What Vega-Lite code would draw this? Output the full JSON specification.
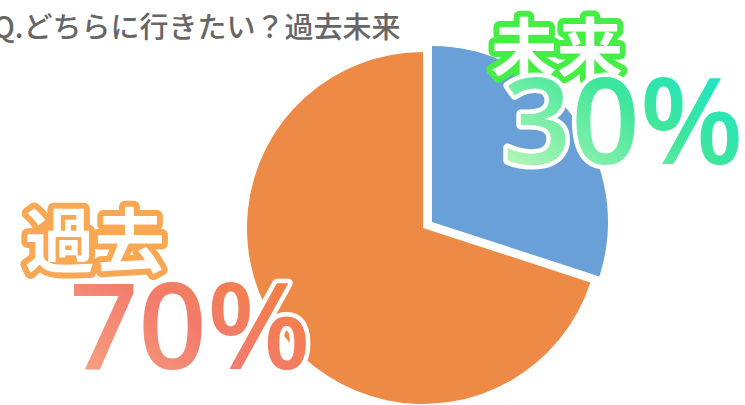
{
  "$schema": "https://vega.github.io/schema/vega-lite/v6.json",
  "width": 646,
  "height": 352,
  "autosize": {"type": "none"},
  "padding": {"left": 100, "top": 52, "right": 0, "bottom": 0},
  "background": "white",
  "title": {
    "text": "Q.どちらに行きたい？過去未来",
    "anchor": "start",
    "frame": "group",
    "dx": -107,
    "offset": -24,
    "font": "Noto Sans CJK JP",
    "fontSize": 29,
    "fontWeight": 500,
    "color": "#666666"
  },
  "data": {"values": [
    {"category": "未来", "value": 30},
    {"category": "過去", "value": 70}
  ]},
  "transform": [
    {"stack": "value", "groupby": [], "sort": [{"field": "value", "order": "ascending"}], "as": ["v0", "v1"]},
    {"calculate": "(datum.v0 + datum.v1) / 2", "as": "mid"},
    {"calculate": "datum.value + '%'", "as": "pct"}
  ],
  "layer": [
    {
      "mark": {"type": "arc", "radius": 176},
      "encoding": {
        "theta": {"field": "v0", "type": "quantitative", "stack": null, "scale": {"domain": [0, 100]}},
        "theta2": {"field": "v1"},
        "color": {"field": "category", "type": "nominal", "scale": {"domain": ["未来", "過去"], "range": ["#6aa0d8", "#ec8a46"]}, "legend": null},
        "opacity": {"condition": {"test": "datum.category === '未来'", "value": 0}, "value": 1}
      }
    },
    {
      "transform": [{"filter": "datum.category === '未来'"}],
      "mark": {"type": "arc", "radius": 176, "xOffset": 9, "yOffset": -6},
      "encoding": {
        "theta": {"field": "v0", "type": "quantitative", "stack": null, "scale": {"domain": [0, 100]}},
        "theta2": {"field": "v1"},
        "color": {"field": "category", "type": "nominal", "legend": null}
      }
    },
    {
      "transform": [{"filter": "datum.category === '未来'"}],
      "mark": {"type": "text", "radius": 230, "dx": -52, "dy": -40, "font": "Noto Sans CJK JP", "fontWeight": "bold", "fontSize": 66, "fill": "#44ee44", "stroke": "#44ee44", "strokeWidth": 12, "strokeJoin": "round", "align": "center", "baseline": "middle"},
      "encoding": {"theta": {"field": "mid", "type": "quantitative", "stack": null, "scale": {"domain": [0, 100]}}, "text": {"field": "category"}}
    },
    {
      "transform": [{"filter": "datum.category === '未来'"}],
      "mark": {"type": "text", "radius": 230, "dx": -52, "dy": -40, "font": "Noto Sans CJK JP", "fontWeight": "bold", "fontSize": 66, "fill": "#ffffff", "align": "center", "baseline": "middle"},
      "encoding": {"theta": {"field": "mid", "type": "quantitative", "stack": null, "scale": {"domain": [0, 100]}}, "text": {"field": "category"}}
    },
    {
      "transform": [{"filter": "datum.category === '未来'"}],
      "mark": {"type": "text", "radius": 230, "dx": 14, "dy": 35, "font": "Open Sans", "fontWeight": 600, "fontSize": 120, "fill": "#ffffff", "stroke": "#ffffff", "strokeWidth": 9, "strokeJoin": "round", "align": "center", "baseline": "middle"},
      "encoding": {"theta": {"field": "mid", "type": "quantitative", "stack": null, "scale": {"domain": [0, 100]}}, "text": {"field": "pct"}}
    },
    {
      "transform": [{"filter": "datum.category === '未来'"}],
      "mark": {"type": "text", "radius": 230, "dx": 14, "dy": 35, "font": "Open Sans", "fontWeight": 600, "fontSize": 120, "align": "center", "baseline": "middle",
        "fill": {"gradient": "linear", "x1": 1, "y1": 0, "x2": 0, "y2": 1, "stops": [{"offset": 0, "color": "#08e4e4"}, {"offset": 0.45, "color": "#3fe69a"}, {"offset": 1, "color": "#d2fabe"}]}},
      "encoding": {"theta": {"field": "mid", "type": "quantitative", "stack": null, "scale": {"domain": [0, 100]}}, "text": {"field": "pct"}}
    },
    {
      "transform": [{"filter": "datum.category === '過去'"}],
      "mark": {"type": "text", "radius": 271, "dx": -109, "dy": -141, "font": "Noto Sans CJK JP", "fontWeight": "bold", "fontSize": 70, "fill": "#f8a752", "stroke": "#f8a752", "strokeWidth": 12, "strokeJoin": "round", "align": "center", "baseline": "middle"},
      "encoding": {"theta": {"field": "mid", "type": "quantitative", "stack": null, "scale": {"domain": [0, 100]}}, "text": {"field": "category"}}
    },
    {
      "transform": [{"filter": "datum.category === '過去'"}],
      "mark": {"type": "text", "radius": 271, "dx": -109, "dy": -141, "font": "Noto Sans CJK JP", "fontWeight": "bold", "fontSize": 70, "fill": "#ffffff", "align": "center", "baseline": "middle"},
      "encoding": {"theta": {"field": "mid", "type": "quantitative", "stack": null, "scale": {"domain": [0, 100]}}, "text": {"field": "category"}}
    },
    {
      "transform": [{"filter": "datum.category === '過去'"}],
      "mark": {"type": "text", "radius": 247, "dx": -33, "dy": -40, "font": "Open Sans", "fontWeight": 600, "fontSize": 120, "fill": "#ffffff", "stroke": "#ffffff", "strokeWidth": 9, "strokeJoin": "round", "align": "center", "baseline": "middle"},
      "encoding": {"theta": {"field": "mid", "type": "quantitative", "stack": null, "scale": {"domain": [0, 100]}}, "text": {"field": "pct"}}
    },
    {
      "transform": [{"filter": "datum.category === '過去'"}],
      "mark": {"type": "text", "radius": 247, "dx": -33, "dy": -40, "font": "Open Sans", "fontWeight": 600, "fontSize": 120, "align": "center", "baseline": "middle",
        "fill": {"gradient": "linear", "x1": 1, "y1": 0, "x2": 0, "y2": 1, "stops": [{"offset": 0, "color": "#f5822c"}, {"offset": 0.5, "color": "#f27c6c"}, {"offset": 1, "color": "#f8ab88"}]}},
      "encoding": {"theta": {"field": "mid", "type": "quantitative", "stack": null, "scale": {"domain": [0, 100]}}, "text": {"field": "pct"}}
    }
  ],
  "config": {"view": {"stroke": null}}
}
